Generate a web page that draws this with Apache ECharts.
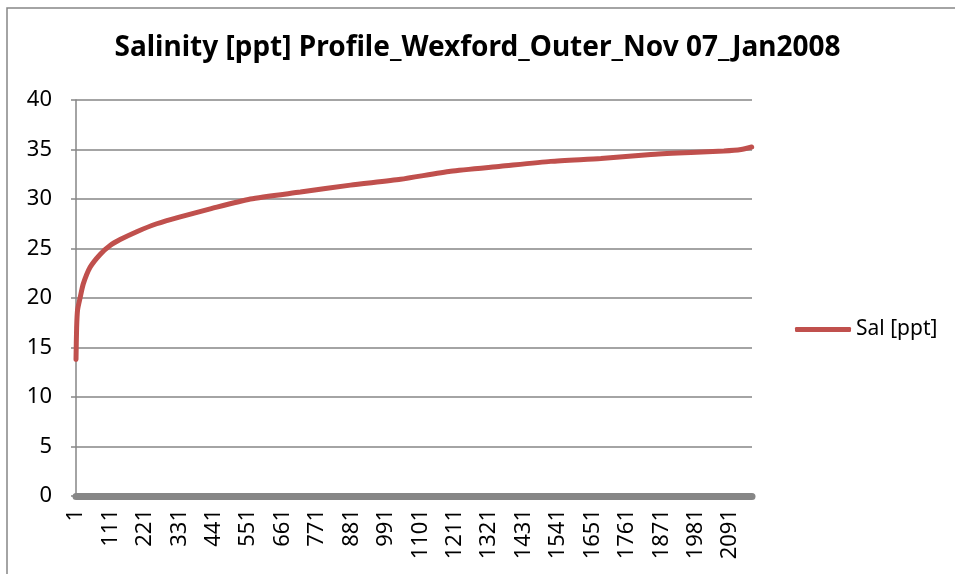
<!DOCTYPE html>
<html>
<head>
<meta charset="utf-8">
<script src="https://cdn.jsdelivr.net/npm/echarts@6/dist/echarts.min.js"></script>
<style>
  html, body { margin: 0; padding: 0; background: #fff; }
  #chart { width: 955px; height: 574px; }
</style>
</head>
<body>
<div id="chart"></div>
<script>
const sampleIndex = [0, 2, 5, 13, 23, 45, 77, 109, 141, 194, 258, 333, 429, 557, 717, 877, 1037, 1197, 1357, 1517, 1677, 1837, 1965, 2070, 2125, 2159]
const salinity = [13.8, 17.0, 18.8, 20.0, 21.4, 23.1, 24.4, 25.3, 25.9, 26.7, 27.5, 28.2, 29.0, 30.0, 30.7, 31.4, 32.0, 32.8, 33.3, 33.8, 34.1, 34.5, 34.7, 34.85, 35.0, 35.25]
const sampleCount = 2160
const labelStep = 110
const yTicks = [0, 5, 10, 15, 20, 25, 30, 35, 40]

const chart = echarts.init(document.getElementById('chart'))

const gridColor = '#868686'
const font = 'Noto Sans, sans-serif'

const option = {
  animation: false,
  title: {
    text: 'Salinity [ppt] Profile_Wexford_Outer_Nov 07_Jan2008',
    left: 'center',
    top: 29,
    textStyle: { fontFamily: font, fontSize: 28, fontWeight: 'bold', color: '#000' }
  },
  graphic: [
    {
      type: 'rect',
      shape: { x: 7, y: 8, width: 1000, height: 700 },
      style: { fill: 'none', stroke: gridColor, lineWidth: 1.5 }
    }
  ],
  legend: {
    data: ['Sal [ppt]'],
    left: 790,
    top: 314,
    icon: 'roundRect',
    itemWidth: 56,
    itemHeight: 5,
    itemGap: 4,
    itemStyle: { color: '#c0504d' },
    textStyle: { fontFamily: font, fontSize: 21, color: '#000' }
  },
  grid: { left: 76, top: 100, right: 203, bottom: 78 },
  xAxis: {
    type: 'value',
    min: 0,
    max: sampleCount,
    interval: labelStep,
    axisLine: { show: true, onZero: false, lineStyle: { color: gridColor, width: 7 } },
    axisTick: { show: false },
    splitLine: { show: false },
    axisLabel: {
      rotate: 90,
      margin: 13,
      showMaxLabel: false,
      fontFamily: font,
      fontSize: 22,
      color: '#000',
      formatter: v => String(v + 1)
    }
  },
  yAxis: {
    type: 'value',
    min: yTicks[0],
    max: yTicks[yTicks.length - 1],
    interval: 5,
    axisLine: { show: true, lineStyle: { color: gridColor, width: 1.5 } },
    axisTick: { show: true, length: 5, lineStyle: { color: gridColor, width: 1.5 } },
    splitLine: { show: true, lineStyle: { color: gridColor, width: 1.5 } },
    axisLabel: { margin: 24, fontFamily: font, fontSize: 22, color: '#000' }
  },
  series: [
    {
      name: 'Sal [ppt]',
      type: 'line',
      symbol: 'none',
      smooth: 0.2,
      lineStyle: { color: '#c0504d', width: 5, cap: 'round' },
      itemStyle: { color: '#c0504d' },
      data: sampleIndex.map((s, i) => [s, salinity[i]])
    }
  ]
}

chart.setOption(option)
</script>
</body>
</html>
